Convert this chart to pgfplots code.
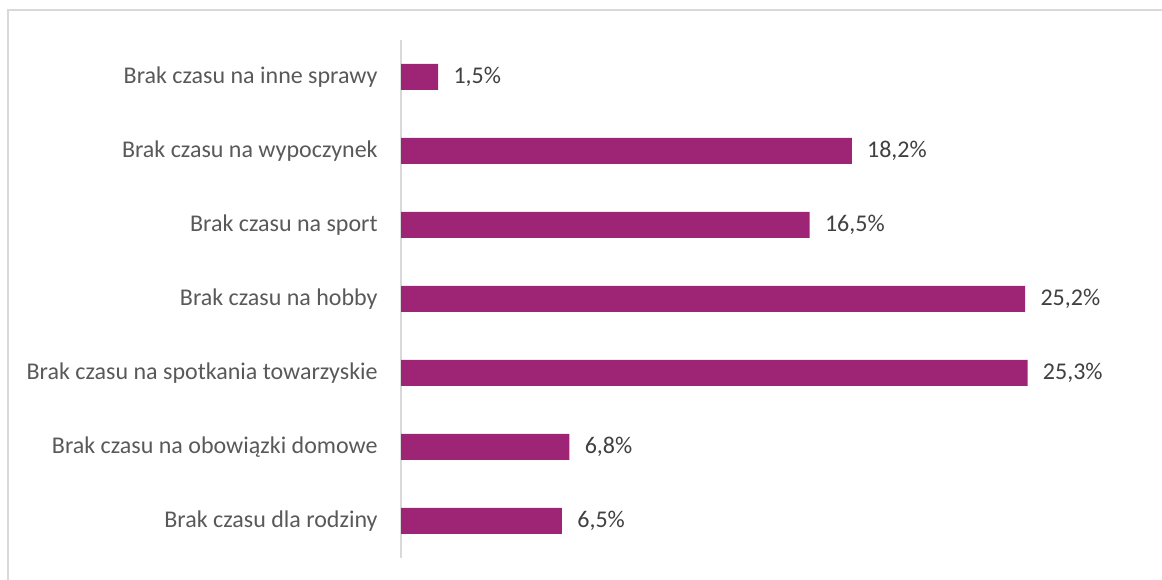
\documentclass[border=0pt]{standalone}
\usepackage{pgfplots}
\pgfplotsset{compat=1.18}
\usepackage{fontspec}
\setmainfont{Carlito}
\definecolor{barc}{RGB}{158,37,118}
\definecolor{axc}{RGB}{217,217,217}
\definecolor{lblc}{RGB}{89,89,89}
\definecolor{valc}{RGB}{64,64,64}
\begin{document}
\begin{tikzpicture}
\path[use as bounding box] (0pt,0pt) rectangle (871.5pt,435pt);
\draw[axc,line width=1.5pt] (6pt,-10pt) -- (6pt,427.5pt) -- (890pt,427.5pt);
\begin{axis}[
  at={(300.75pt,16.5pt)}, anchor=south west,
  scale only axis,
  width=557.25pt, height=388.5pt,
  xmin=0, xmax=30,
  ymin=-0.5, ymax=6.5,
  xbar, bar width=19.5pt,
  axis x line=none,
  axis y line*=left,
  y axis line style={axc, line width=0.9pt, -},
  ytick={0,...,6},
  yticklabels={Brak czasu dla rodziny,Brak czasu na obowiązki domowe,Brak czasu na spotkania towarzyskie,Brak czasu na hobby,Brak czasu na sport,Brak czasu na wypoczynek,Brak czasu na inne sprawy},
  major tick length=0pt,
  yticklabel style={font=\fontsize{18}{21}\selectfont, text=lblc, xshift=-14pt},
  nodes near coords={\pgfmathprintnumber[fixed,fixed zerofill,precision=1,use comma,assume math mode=true]{\pgfplotspointmeta}\%},
  nodes near coords style={font=\fontsize{18}{21}\selectfont, text=valc, anchor=west, xshift=8pt},
  point meta=x,
  clip=false,
]
\addplot[draw=none, fill=barc] coordinates {
  (6.5,0) (6.8,1) (25.3,2) (25.2,3) (16.5,4) (18.2,5) (1.5,6)
};
\end{axis}
\end{tikzpicture}
\end{document}
